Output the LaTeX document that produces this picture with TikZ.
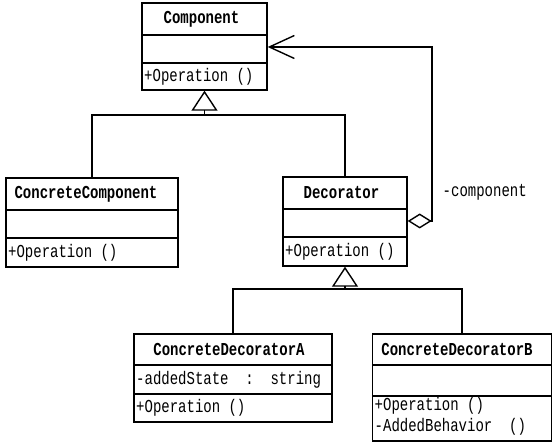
\documentclass[tikz,border=0pt]{standalone}
\usepackage{fontspec}
\newfontfamily\umlfont{Liberation Mono}
\usetikzlibrary{arrows.meta}
\newcommand{\tallt}[1]{\scalebox{1}[1.3]{#1}}
\begin{document}
\begin{tikzpicture}[x=1pt,y=-1pt,line width=1.4pt,
  cls/.style={draw,line width=1.4pt,inner sep=0pt},
  clsname/.style={font=\umlfont\bfseries\fontsize{14}{16}\selectfont,inner sep=0pt},
  member/.style={font=\umlfont\fontsize{14}{16}\selectfont,inner sep=0pt,anchor=west},
  divider/.style={line width=1.4pt},
  link/.style={line width=1.4pt},
  gen/.style={link,-{Triangle[open,length=20pt,width=26pt]}},
  agg/.style={link,{Diamond[open,length=24pt,width=15pt]}-{Straight Barb[length=25pt,width=23pt]}}
  ]
\useasboundingbox (0,0) rectangle (558,443);

% Component
\node[cls,minimum width=125pt,minimum height=87pt] (comp) at (204.5,46.5) {};
\draw[divider] (comp.west |- 0,35) -- (comp.east |- 0,35);
\draw[divider] (comp.west |- 0,63) -- (comp.east |- 0,63);
\node[clsname] (compname) at (201.5,19) {\tallt{Component}};
\node[member] (compop) at (143.5,76.5) {\tallt{+Operation ()}};

% ConcreteComponent
\node[cls,minimum width=172pt,minimum height=89pt] (cc) at (92,222.5) {};
\draw[divider] (cc.west |- 0,210) -- (cc.east |- 0,210);
\draw[divider] (cc.west |- 0,238) -- (cc.east |- 0,238);
\node[clsname] (ccname) at (86,194) {\tallt{ConcreteComponent}};
\node[member] (ccop) at (7.5,252.5) {\tallt{+Operation ()}};

% Decorator
\node[cls,minimum width=124pt,minimum height=89pt] (dec) at (345,221.5) {};
\draw[divider] (dec.west |- 0,209) -- (dec.east |- 0,209);
\draw[divider] (dec.west |- 0,237) -- (dec.east |- 0,237);
\node[clsname] (decname) at (341.5,193) {\tallt{Decorator}};
\node[member] (decop) at (284.5,251.5) {\tallt{+Operation ()}};

% ConcreteDecoratorA
\node[cls,minimum width=198pt,minimum height=88pt] (cda) at (233,378) {};
\draw[divider] (cda.west |- 0,365) -- (cda.east |- 0,365);
\draw[divider] (cda.west |- 0,394) -- (cda.east |- 0,394);
\node[clsname] (cdaname) at (229,350) {\tallt{ConcreteDecoratorA}};
\node[member] (cdaattr) at (135.5,380) {\tallt{-addedState\ \ :\ \ string}};
\node[member] (cdaop) at (135.5,408) {\tallt{+Operation ()}};

% ConcreteDecoratorB
\node[cls,minimum width=179pt,minimum height=107pt] (cdb) at (462,387.5) {};
\draw[divider] (cdb.west |- 0,365) -- (cdb.east |- 0,365);
\draw[divider] (cdb.west |- 0,396) -- (cdb.east |- 0,396);
\node[clsname] (cdbname) at (457,350) {\tallt{ConcreteDecoratorB}};
\node[member] (cdbop1) at (374,406) {\tallt{+Operation ()}};
\node[member] (cdbop2) at (374,427) {\tallt{-AddedBehavior\ \ ()}};

% generalization to Component
\coordinate (j1) at (204.5,115);
\draw[link] (cc.north) |- (j1);
\draw[link] (dec.north) |- (j1);
\draw[gen] (j1) -- (comp.south);

% generalization to Decorator
\coordinate (j2) at (345,289);
\draw[link] (cda.north) |- (j2);
\draw[link] (cdb.north) |- (j2);
\draw[gen] (j2) -- (dec.south);

% aggregation Decorator -> Component
\coordinate (k1) at (432,221);
\coordinate (k2) at (432,47);
\draw[agg] (dec.east |- k1) -- (k1) -- (k2) -- (comp.east |- k2);
\node[member] (rolelbl) at (442,192) {\tallt{-component}};
\end{tikzpicture}
\end{document}
